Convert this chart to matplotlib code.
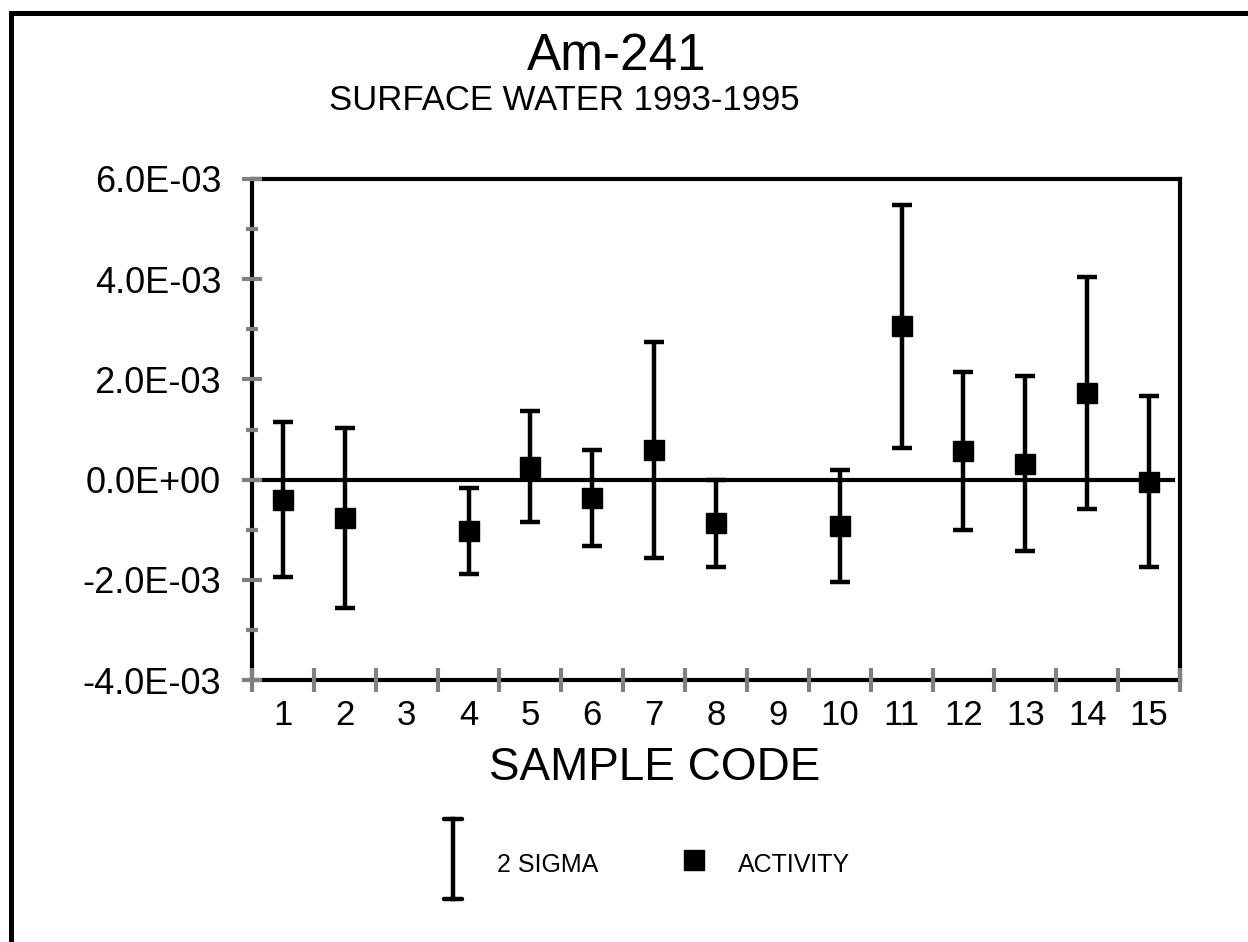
"""
Am-241 surface water activity with 2 sigma error bars, 1993-1995.
"""

import matplotlib
matplotlib.use("Agg")
import matplotlib.pyplot as plt
from matplotlib.lines import Line2D
from matplotlib.patches import Rectangle
import numpy as np

plt.rcParams["font.family"] = ["Liberation Sans", "DejaVu Sans"]

# data (activity and 2 sigma, units of 1E-03); codes 3 and 9 have no result
sample_codes = ["1", "2", "3", "4", "5", "6", "7", "8", "9", "10", "11", "12", "13", "14", "15"]
activity = [-0.40, -0.77, np.nan, -1.02, 0.26, -0.36, 0.59, -0.87, np.nan,
            -0.92, 3.06, 0.57, 0.32, 1.73, -0.04]
two_sigma = [1.55, 1.79, np.nan, 0.86, 1.11, 0.96, 2.16, 0.87, np.nan,
             1.12, 2.42, 1.57, 1.75, 2.32, 1.70]
y_ticks = [-4.0, -2.0, 0.0, 2.0, 4.0, 6.0]
y_tick_labels = ["-4.0E-03", "-2.0E-03", "0.0E+00", "2.0E-03", "4.0E-03", "6.0E-03"]

W, H = 1248, 942
fig = plt.figure(figsize=(W / 100, H / 100), dpi=100)
fig.patch.set_facecolor("white")

# outer frame (only top and left edges fall inside the picture)
fig.add_artist(Rectangle((10.5 / W, -0.2), 1.5, 1.2 - 12.5 / H, transform=fig.transFigure,
                         fill=False, edgecolor="black", linewidth=3.6))

ax = fig.add_axes([252 / W, 1 - 680 / H, (1180 - 252) / W, (680 - 179) / H])

x = np.arange(1, len(sample_codes) + 1)
act = np.array(activity) * 1e-3
sig = np.array(two_sigma) * 1e-3

ax.axhline(0, xmin=0, xmax=0.992, color="black", linewidth=3, zorder=2)
ax.errorbar(x, act, yerr=sig, fmt="s", color="black", markersize=14.5,
            ecolor="black", elinewidth=3.2, capsize=7.5, capthick=3.2, zorder=4)

ax.set_xlim(0.5, len(sample_codes) + 0.5)
ax.set_ylim(-4e-3, 6e-3)

# y axis: gray ticks crossing the spine
ax.set_yticks(np.array(y_ticks) * 1e-3)
ax.set_yticklabels(y_tick_labels)
ax.set_yticks(np.arange(-3, 6, 2) * 1e-3, minor=True)
ax.tick_params(axis="y", which="major", direction="inout", length=15, width=3,
               color="#808080", labelsize=26, pad=14.8)
ax.tick_params(axis="y", which="minor", direction="inout", length=8, width=3,
               color="#808080")

# x axis: gray ticks at category boundaries, labels at centers
ax.set_xticks(np.arange(0.5, len(sample_codes) + 1, 1.0))
ax.set_xticklabels([])
ax.set_xticks(x, minor=True)
ax.set_xticklabels(sample_codes, minor=True)
ax.tick_params(axis="x", which="major", direction="inout", length=17, width=3,
               color="#808080")
ax.tick_params(axis="x", which="minor", length=0, labelsize=25, pad=14)

for s in ax.spines.values():
    s.set_linewidth(3)
    s.set_color("black")
ax.xaxis.set_zorder(3)
ax.yaxis.set_zorder(3)

# titles
fig.text(617 / W, 1 - 70 / H, "Am-241", ha="center", va="baseline", fontsize=37)
fig.text(800 / W, 1 - 110 / H, "SURFACE WATER 1993-1995", ha="right", va="baseline", fontsize=25)
fig.text(655 / W, 1 - 780 / H, "SAMPLE CODE", ha="center", va="baseline", fontsize=33)

# legend drawn by hand
lx = 453 / W
fig.add_artist(Line2D([lx, lx], [1 - 819 / H, 1 - 899 / H], color="black", linewidth=3.2,
                      transform=fig.transFigure))
for cy in (819, 899):
    fig.add_artist(Line2D([lx - 9 / W, lx + 9 / W], [1 - cy / H, 1 - cy / H], color="black",
                          linewidth=3.2, solid_capstyle="round", transform=fig.transFigure))
fig.text(497 / W, 1 - 872 / H, "2 SIGMA", ha="left", va="baseline", fontsize=18)
fig.add_artist(Line2D([694 / W], [1 - 860 / H], marker="s", markersize=15, color="black",
                      linestyle="none", transform=fig.transFigure))
fig.text(738 / W, 1 - 872 / H, "ACTIVITY", ha="left", va="baseline", fontsize=18)

fig.savefig("out.png", dpi=100, facecolor="white")
